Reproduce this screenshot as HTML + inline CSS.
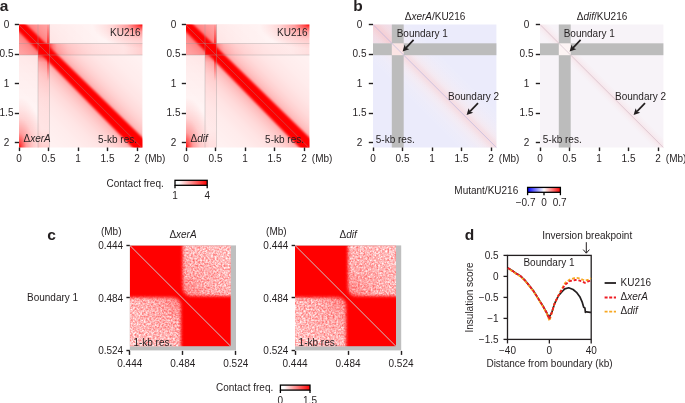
<!DOCTYPE html>
<html><head><meta charset="utf-8"><title>Figure</title>
<style>html,body{margin:0;padding:0;background:#fff;} body{width:685px;height:403px;overflow:hidden;} svg{display:block;font-family:"Liberation Sans", sans-serif;} text{opacity:0.995}</style>
</head><body>
<svg width="685" height="403" viewBox="0 0 685 403">
<defs><linearGradient id="dgA" gradientUnits="userSpaceOnUse" x1="0" y1="123.4" x2="123.4" y2="0"><stop offset="0.0000" stop-color="#ff0000" stop-opacity="0.01"/><stop offset="0.1556" stop-color="#ff0000" stop-opacity="0.025"/><stop offset="0.2569" stop-color="#ff0000" stop-opacity="0.045"/><stop offset="0.3258" stop-color="#ff0000" stop-opacity="0.075"/><stop offset="0.3744" stop-color="#ff0000" stop-opacity="0.115"/><stop offset="0.4068" stop-color="#ff0000" stop-opacity="0.16"/><stop offset="0.4311" stop-color="#ff0000" stop-opacity="0.21"/><stop offset="0.4473" stop-color="#ff0000" stop-opacity="0.26"/><stop offset="0.4595" stop-color="#ff0000" stop-opacity="0.31"/><stop offset="0.4716" stop-color="#ff0000" stop-opacity="0.37"/><stop offset="0.4838" stop-color="#ff0000" stop-opacity="0.42"/><stop offset="0.5000" stop-color="#ff0000" stop-opacity="0.45"/><stop offset="0.5162" stop-color="#ff0000" stop-opacity="0.42"/><stop offset="0.5284" stop-color="#ff0000" stop-opacity="0.37"/><stop offset="0.5405" stop-color="#ff0000" stop-opacity="0.31"/><stop offset="0.5527" stop-color="#ff0000" stop-opacity="0.26"/><stop offset="0.5689" stop-color="#ff0000" stop-opacity="0.21"/><stop offset="0.5932" stop-color="#ff0000" stop-opacity="0.16"/><stop offset="0.6256" stop-color="#ff0000" stop-opacity="0.115"/><stop offset="0.6742" stop-color="#ff0000" stop-opacity="0.075"/><stop offset="0.7431" stop-color="#ff0000" stop-opacity="0.045"/><stop offset="0.8444" stop-color="#ff0000" stop-opacity="0.025"/><stop offset="1.0000" stop-color="#ff0000" stop-opacity="0.01"/></linearGradient><filter id="fcore" x="-5%" y="-5%" width="110%" height="110%"><feGaussianBlur stdDeviation="1.3"/></filter><clipPath id="clipA"><rect width="123.4" height="123"/></clipPath><radialGradient id="cTR" gradientUnits="userSpaceOnUse" cx="0" cy="0" r="1" gradientTransform="translate(123.4,0) scale(50,24)"><stop offset="0" stop-color="#f00" stop-opacity="1"/><stop offset="0.1" stop-color="#f00" stop-opacity="0.7"/><stop offset="0.3" stop-color="#f00" stop-opacity="0.32"/><stop offset="0.6" stop-color="#f00" stop-opacity="0.12"/><stop offset="1" stop-color="#f00" stop-opacity="0"/></radialGradient><radialGradient id="cBL" gradientUnits="userSpaceOnUse" cx="0" cy="0" r="1" gradientTransform="translate(0,123) scale(24,50)"><stop offset="0" stop-color="#f00" stop-opacity="1"/><stop offset="0.1" stop-color="#f00" stop-opacity="0.7"/><stop offset="0.3" stop-color="#f00" stop-opacity="0.32"/><stop offset="0.6" stop-color="#f00" stop-opacity="0.12"/><stop offset="1" stop-color="#f00" stop-opacity="0"/></radialGradient><linearGradient id="stH2" gradientUnits="userSpaceOnUse" x1="30.5" y1="0" x2="123.4" y2="0"><stop offset="0" stop-color="#f00" stop-opacity="0.6"/><stop offset="0.04" stop-color="#f00" stop-opacity="0.3"/><stop offset="0.08" stop-color="#f00" stop-opacity="0.15"/><stop offset="0.2" stop-color="#f00" stop-opacity="0.08"/><stop offset="0.5" stop-color="#f00" stop-opacity="0.05"/><stop offset="0.8" stop-color="#f00" stop-opacity="0.05"/><stop offset="1" stop-color="#f00" stop-opacity="0.15"/></linearGradient><linearGradient id="stV2" gradientUnits="userSpaceOnUse" x1="0" y1="30.5" x2="0" y2="123"><stop offset="0" stop-color="#f00" stop-opacity="0.6"/><stop offset="0.04" stop-color="#f00" stop-opacity="0.3"/><stop offset="0.08" stop-color="#f00" stop-opacity="0.15"/><stop offset="0.2" stop-color="#f00" stop-opacity="0.08"/><stop offset="0.5" stop-color="#f00" stop-opacity="0.05"/><stop offset="0.8" stop-color="#f00" stop-opacity="0.05"/><stop offset="1" stop-color="#f00" stop-opacity="0.15"/></linearGradient><linearGradient id="stH1" gradientUnits="userSpaceOnUse" x1="30.5" y1="0" x2="123.4" y2="0"><stop offset="0" stop-color="#f00" stop-opacity="0.06"/><stop offset="0.6" stop-color="#f00" stop-opacity="0.03"/><stop offset="1" stop-color="#f00" stop-opacity="0.1"/></linearGradient><linearGradient id="stV1" gradientUnits="userSpaceOnUse" x1="0" y1="30.5" x2="0" y2="123"><stop offset="0" stop-color="#f00" stop-opacity="0.06"/><stop offset="0.6" stop-color="#f00" stop-opacity="0.03"/><stop offset="1" stop-color="#f00" stop-opacity="0.1"/></linearGradient><linearGradient id="skV1" x1="0" y1="0" x2="0" y2="1"><stop offset="0" stop-color="#f00" stop-opacity="0.05"/><stop offset="0.5" stop-color="#f00" stop-opacity="0.3"/><stop offset="1" stop-color="#f00" stop-opacity="0.6"/></linearGradient><linearGradient id="skV2" x1="0" y1="0" x2="0" y2="1"><stop offset="0" stop-color="#f00" stop-opacity="0.7"/><stop offset="0.4" stop-color="#f00" stop-opacity="0.35"/><stop offset="1" stop-color="#f00" stop-opacity="0"/></linearGradient><linearGradient id="skV" gradientUnits="userSpaceOnUse" x1="0" y1="0" x2="0" y2="60"><stop offset="0" stop-color="#f00" stop-opacity="0.1"/><stop offset="0.3" stop-color="#f00" stop-opacity="0.35"/><stop offset="0.55" stop-color="#f00" stop-opacity="0.45"/><stop offset="1" stop-color="#f00" stop-opacity="0"/></linearGradient><linearGradient id="skH" gradientUnits="userSpaceOnUse" x1="0" y1="0" x2="60" y2="0"><stop offset="0" stop-color="#f00" stop-opacity="0.05"/><stop offset="0.3" stop-color="#f00" stop-opacity="0.2"/><stop offset="0.55" stop-color="#f00" stop-opacity="0.3"/><stop offset="1" stop-color="#f00" stop-opacity="0"/></linearGradient><linearGradient id="cbR" x1="0" y1="0" x2="1" y2="0"><stop offset="0" stop-color="#fff"/><stop offset="0.12" stop-color="#fff"/><stop offset="1" stop-color="#f00"/></linearGradient><linearGradient id="cbBWR" x1="0" y1="0" x2="1" y2="0"><stop offset="0" stop-color="#00f"/><stop offset="0.5" stop-color="#fff"/><stop offset="1" stop-color="#f00"/></linearGradient><linearGradient id="dgB1" gradientUnits="userSpaceOnUse" x1="0" y1="123.4" x2="123.4" y2="0"><stop offset="0.3541" stop-color="#f03030" stop-opacity="0"/><stop offset="0.3947" stop-color="#f03030" stop-opacity="0.008"/><stop offset="0.4352" stop-color="#f03030" stop-opacity="0.028"/><stop offset="0.4595" stop-color="#f03030" stop-opacity="0.055"/><stop offset="0.4757" stop-color="#f03030" stop-opacity="0.09"/><stop offset="0.4878" stop-color="#f03030" stop-opacity="0.12"/><stop offset="0.5000" stop-color="#f03030" stop-opacity="0.13"/><stop offset="0.5122" stop-color="#f03030" stop-opacity="0.12"/><stop offset="0.5243" stop-color="#f03030" stop-opacity="0.09"/><stop offset="0.5405" stop-color="#f03030" stop-opacity="0.055"/><stop offset="0.5648" stop-color="#f03030" stop-opacity="0.028"/><stop offset="0.6053" stop-color="#f03030" stop-opacity="0.008"/><stop offset="0.6459" stop-color="#f03030" stop-opacity="0"/></linearGradient><linearGradient id="dgW" gradientUnits="userSpaceOnUse" x1="0" y1="123.4" x2="123.4" y2="0"><stop offset="0.3460" stop-color="#ffffff" stop-opacity="0"/><stop offset="0.3947" stop-color="#ffffff" stop-opacity="0.14"/><stop offset="0.4352" stop-color="#ffffff" stop-opacity="0.32"/><stop offset="0.4676" stop-color="#ffffff" stop-opacity="0.5"/><stop offset="0.5000" stop-color="#ffffff" stop-opacity="0.6"/><stop offset="0.5324" stop-color="#ffffff" stop-opacity="0.5"/><stop offset="0.5648" stop-color="#ffffff" stop-opacity="0.32"/><stop offset="0.6053" stop-color="#ffffff" stop-opacity="0.14"/><stop offset="0.6540" stop-color="#ffffff" stop-opacity="0"/></linearGradient><linearGradient id="dgB2" gradientUnits="userSpaceOnUse" x1="0" y1="123.4" x2="123.4" y2="0"><stop offset="0.4595" stop-color="#f03030" stop-opacity="0"/><stop offset="0.4797" stop-color="#f03030" stop-opacity="0.025"/><stop offset="0.4919" stop-color="#f03030" stop-opacity="0.05"/><stop offset="0.5000" stop-color="#f03030" stop-opacity="0.08"/><stop offset="0.5081" stop-color="#f03030" stop-opacity="0.05"/><stop offset="0.5203" stop-color="#f03030" stop-opacity="0.025"/><stop offset="0.5405" stop-color="#f03030" stop-opacity="0"/></linearGradient><filter id="fz" x="-20%" y="-20%" width="140%" height="140%"><feGaussianBlur stdDeviation="1.8"/></filter><clipPath id="clipC"><rect width="101" height="101"/></clipPath><mask id="mC" maskUnits="userSpaceOnUse" x="-10" y="-10" width="121" height="121"><g filter="url(#fz)"><path d="M53,-10 H115 V50.5 H62 Q53,50.5 53,41.5 Z" fill="url(#mgUR)"/><path d="M-10,52 H42 Q51,52 51,61 V115 H-10 Z" fill="url(#mgLL)"/></g></mask><radialGradient id="mgUR" gradientUnits="userSpaceOnUse" cx="53" cy="51" r="62"><stop offset="0" stop-color="#a8a8a8"/><stop offset="0.4" stop-color="#e0e0e0"/><stop offset="1" stop-color="#fff"/></radialGradient><radialGradient id="mgLL" gradientUnits="userSpaceOnUse" cx="51" cy="52" r="62"><stop offset="0" stop-color="#a8a8a8"/><stop offset="0.4" stop-color="#e0e0e0"/><stop offset="1" stop-color="#fff"/></radialGradient><filter id="speck1" filterUnits="userSpaceOnUse" x="-5" y="-5" width="111" height="111" color-interpolation-filters="sRGB"><feTurbulence type="fractalNoise" baseFrequency="0.55" numOctaves="2" seed="7" result="n"/><feColorMatrix in="n" type="matrix" values="0 0 0 0 1  0 0 0 0 1  0 0 0 0 1  0.9 0 0 0 0.3"/><feComposite in2="SourceGraphic" operator="in"/></filter><filter id="speck2" filterUnits="userSpaceOnUse" x="-5" y="-5" width="111" height="111" color-interpolation-filters="sRGB"><feTurbulence type="fractalNoise" baseFrequency="0.55" numOctaves="2" seed="13" result="n"/><feColorMatrix in="n" type="matrix" values="0 0 0 0 1  0 0 0 0 1  0 0 0 0 1  0.9 0 0 0 0.3"/><feComposite in2="SourceGraphic" operator="in"/></filter></defs>
<g transform="translate(19,24.5)">
<rect width="123.4" height="123.0" fill="#fff7f7"/>
<rect width="123.4" height="123.0" fill="url(#dgA)"/>
<g clip-path="url(#clipA)"><polygon points="-3,-3 4.0,-3 126.4,116.0 126.4,126.0 116.4,126.0 -3,4.0" fill="#f00" filter="url(#fcore)"/></g>
<rect x="30.5" y="0" width="92.9" height="19.0" fill="#fff" fill-opacity="0.8"/>
<rect x="0" y="30.5" width="19.0" height="92.5" fill="#fff" fill-opacity="0.8"/>
<rect x="30.5" y="0" width="92.9" height="19.0" fill="url(#stH1)"/>
<rect x="0" y="30.5" width="19.0" height="92.5" fill="url(#stV1)"/>
<rect x="30.5" y="19.0" width="92.9" height="11.5" fill="url(#stH2)" fill-opacity="1.0"/>
<rect x="19.0" y="30.5" width="11.5" height="92.5" fill="url(#stV2)" fill-opacity="1.0"/>
<rect x="0" y="0" width="30.5" height="30.5" fill="#f00" fill-opacity="0.24"/>
<rect x="19.0" y="19.0" width="11.5" height="11.5" fill="#f00" fill-opacity="0.85"/>
<rect x="28" y="0" width="2.5" height="19" fill="url(#skV1)"/>
<rect x="28" y="30.5" width="2.5" height="26" fill="url(#skV2)"/>
<rect width="123.4" height="123.0" fill="url(#cTR)"/>
<rect width="123.4" height="123.0" fill="url(#cBL)"/>
<line x1="0" y1="19.0" x2="123.4" y2="19.0" stroke="#999" stroke-width="0.8" stroke-opacity="0.45"/>
<line x1="19.0" y1="0" x2="19.0" y2="123.0" stroke="#999" stroke-width="0.8" stroke-opacity="0.45"/>
<line x1="0" y1="30.5" x2="123.4" y2="30.5" stroke="#999" stroke-width="0.8" stroke-opacity="0.45"/>
<line x1="30.5" y1="0" x2="30.5" y2="123.0" stroke="#999" stroke-width="0.8" stroke-opacity="0.45"/>
<line x1="0" y1="0.6" x2="122.80000000000001" y2="123.0" stroke="#a09090" stroke-width="0.7" stroke-opacity="0.6"/>
</g>
<text x="140.6" y="36.2" font-size="10" text-anchor="end" fill="#231f20">KU216</text>
<text x="23.5" y="142.4" font-size="10" text-anchor="start" fill="#231f20">&#916;<tspan font-style="italic">xerA</tspan></text>
<text x="137.0" y="142.6" font-size="10" text-anchor="end" fill="#231f20">5-kb res.</text>
<line x1="14.8" y1="24.5" x2="19" y2="24.5" stroke="#231f20" stroke-width="1.4"/>
<text x="6.5" y="27.9" font-size="10" text-anchor="middle" fill="#231f20">0</text>
<line x1="19.5" y1="147.5" x2="19.5" y2="151.1" stroke="#231f20" stroke-width="1.4"/>
<text x="19.0" y="161.6" font-size="10" text-anchor="middle" fill="#231f20">0</text>
<line x1="14.8" y1="54.5" x2="19" y2="54.5" stroke="#231f20" stroke-width="1.4"/>
<text x="6.5" y="57.4" font-size="10" text-anchor="middle" fill="#231f20">0.5</text>
<line x1="48.5" y1="147.5" x2="48.5" y2="151.1" stroke="#231f20" stroke-width="1.4"/>
<text x="48.5" y="161.6" font-size="10" text-anchor="middle" fill="#231f20">0.5</text>
<line x1="14.8" y1="83.5" x2="19" y2="83.5" stroke="#231f20" stroke-width="1.4"/>
<text x="6.5" y="86.9" font-size="10" text-anchor="middle" fill="#231f20">1</text>
<line x1="78.5" y1="147.5" x2="78.5" y2="151.1" stroke="#231f20" stroke-width="1.4"/>
<text x="78.0" y="161.6" font-size="10" text-anchor="middle" fill="#231f20">1</text>
<line x1="14.8" y1="113.5" x2="19" y2="113.5" stroke="#231f20" stroke-width="1.4"/>
<text x="6.5" y="116.4" font-size="10" text-anchor="middle" fill="#231f20">1.5</text>
<line x1="107.5" y1="147.5" x2="107.5" y2="151.1" stroke="#231f20" stroke-width="1.4"/>
<text x="107.5" y="161.6" font-size="10" text-anchor="middle" fill="#231f20">1.5</text>
<line x1="14.8" y1="142.5" x2="19" y2="142.5" stroke="#231f20" stroke-width="1.4"/>
<text x="6.5" y="145.9" font-size="10" text-anchor="middle" fill="#231f20">2</text>
<line x1="137.5" y1="147.5" x2="137.5" y2="151.1" stroke="#231f20" stroke-width="1.4"/>
<text x="137.0" y="161.6" font-size="10" text-anchor="middle" fill="#231f20">2</text>
<text x="144.8" y="161.6" font-size="10" text-anchor="start" fill="#231f20">(Mb)</text>
<g transform="translate(186,24.5)">
<rect width="123.4" height="123.0" fill="#fff7f7"/>
<rect width="123.4" height="123.0" fill="url(#dgA)"/>
<g clip-path="url(#clipA)"><polygon points="-3,-3 4.0,-3 126.4,116.0 126.4,126.0 116.4,126.0 -3,4.0" fill="#f00" filter="url(#fcore)"/></g>
<rect x="30.5" y="0" width="92.9" height="19.0" fill="#fff" fill-opacity="0.8"/>
<rect x="0" y="30.5" width="19.0" height="92.5" fill="#fff" fill-opacity="0.8"/>
<rect x="30.5" y="0" width="92.9" height="19.0" fill="url(#stH1)"/>
<rect x="0" y="30.5" width="19.0" height="92.5" fill="url(#stV1)"/>
<rect x="30.5" y="19.0" width="92.9" height="11.5" fill="url(#stH2)" fill-opacity="0.55"/>
<rect x="19.0" y="30.5" width="11.5" height="92.5" fill="url(#stV2)" fill-opacity="0.55"/>
<rect x="0" y="0" width="30.5" height="30.5" fill="#f00" fill-opacity="0.24"/>
<rect x="19.0" y="19.0" width="11.5" height="11.5" fill="#f00" fill-opacity="0.85"/>
<rect x="28" y="0" width="2.5" height="19" fill="url(#skV1)"/>
<rect x="28" y="30.5" width="2.5" height="26" fill="url(#skV2)"/>
<rect width="123.4" height="123.0" fill="url(#cTR)"/>
<rect width="123.4" height="123.0" fill="url(#cBL)"/>
<line x1="0" y1="19.0" x2="123.4" y2="19.0" stroke="#999" stroke-width="0.8" stroke-opacity="0.45"/>
<line x1="19.0" y1="0" x2="19.0" y2="123.0" stroke="#999" stroke-width="0.8" stroke-opacity="0.45"/>
<line x1="0" y1="30.5" x2="123.4" y2="30.5" stroke="#999" stroke-width="0.8" stroke-opacity="0.45"/>
<line x1="30.5" y1="0" x2="30.5" y2="123.0" stroke="#999" stroke-width="0.8" stroke-opacity="0.45"/>
<line x1="0" y1="0.6" x2="122.80000000000001" y2="123.0" stroke="#a09090" stroke-width="0.7" stroke-opacity="0.6"/>
</g>
<text x="307.6" y="36.2" font-size="10" text-anchor="end" fill="#231f20">KU216</text>
<text x="190.5" y="142.4" font-size="10" text-anchor="start" fill="#231f20">&#916;<tspan font-style="italic">dif</tspan></text>
<text x="304.0" y="142.6" font-size="10" text-anchor="end" fill="#231f20">5-kb res.</text>
<line x1="181.8" y1="24.5" x2="186" y2="24.5" stroke="#231f20" stroke-width="1.4"/>
<text x="173.5" y="27.9" font-size="10" text-anchor="middle" fill="#231f20">0</text>
<line x1="186.5" y1="147.5" x2="186.5" y2="151.1" stroke="#231f20" stroke-width="1.4"/>
<text x="186.0" y="161.6" font-size="10" text-anchor="middle" fill="#231f20">0</text>
<line x1="181.8" y1="54.5" x2="186" y2="54.5" stroke="#231f20" stroke-width="1.4"/>
<text x="173.5" y="57.4" font-size="10" text-anchor="middle" fill="#231f20">0.5</text>
<line x1="215.5" y1="147.5" x2="215.5" y2="151.1" stroke="#231f20" stroke-width="1.4"/>
<text x="215.5" y="161.6" font-size="10" text-anchor="middle" fill="#231f20">0.5</text>
<line x1="181.8" y1="83.5" x2="186" y2="83.5" stroke="#231f20" stroke-width="1.4"/>
<text x="173.5" y="86.9" font-size="10" text-anchor="middle" fill="#231f20">1</text>
<line x1="245.5" y1="147.5" x2="245.5" y2="151.1" stroke="#231f20" stroke-width="1.4"/>
<text x="245.0" y="161.6" font-size="10" text-anchor="middle" fill="#231f20">1</text>
<line x1="181.8" y1="113.5" x2="186" y2="113.5" stroke="#231f20" stroke-width="1.4"/>
<text x="173.5" y="116.4" font-size="10" text-anchor="middle" fill="#231f20">1.5</text>
<line x1="274.5" y1="147.5" x2="274.5" y2="151.1" stroke="#231f20" stroke-width="1.4"/>
<text x="274.5" y="161.6" font-size="10" text-anchor="middle" fill="#231f20">1.5</text>
<line x1="181.8" y1="142.5" x2="186" y2="142.5" stroke="#231f20" stroke-width="1.4"/>
<text x="173.5" y="145.9" font-size="10" text-anchor="middle" fill="#231f20">2</text>
<line x1="304.5" y1="147.5" x2="304.5" y2="151.1" stroke="#231f20" stroke-width="1.4"/>
<text x="304.0" y="161.6" font-size="10" text-anchor="middle" fill="#231f20">2</text>
<text x="311.8" y="161.6" font-size="10" text-anchor="start" fill="#231f20">(Mb)</text>
<text x="-0.3" y="10.9" font-size="15.5" text-anchor="start" font-weight="bold" fill="#231f20">a</text>
<text x="353.3" y="10.9" font-size="15.5" text-anchor="start" font-weight="bold" fill="#231f20">b</text>
<text x="47.2" y="239.9" font-size="15.5" text-anchor="start" font-weight="bold" fill="#231f20">c</text>
<text x="464.8" y="239.9" font-size="15.5" text-anchor="start" font-weight="bold" fill="#231f20">d</text>
<text x="106.5" y="186.6" font-size="10" text-anchor="start" fill="#231f20">Contact freq.</text>
<rect x="175.0" y="180.3" width="32.2" height="5.0" fill="url(#cbR)" stroke="#000" stroke-width="1.3"/>
<line x1="175.0" y1="185.3" x2="175.0" y2="188.20000000000002" stroke="#000" stroke-width="1.3"/>
<line x1="207.2" y1="185.3" x2="207.2" y2="188.20000000000002" stroke="#000" stroke-width="1.3"/>
<text x="175.0" y="198.6" font-size="10" text-anchor="middle" fill="#231f20">1</text>
<text x="207.2" y="198.6" font-size="10" text-anchor="middle" fill="#231f20">4</text>
<g transform="translate(373,24.5)">
<rect width="123.4" height="123.0" fill="#ebebfb"/>
<rect width="123.4" height="123.0" fill="url(#dgW)"/>
<rect width="18.8" height="18.8" fill="#f03030" fill-opacity="0.07"/>
<rect width="123.4" height="123.0" fill="url(#dgB1)"/>
<rect x="18.8" y="0" width="11.899999999999999" height="123.0" fill="#bcbcbc"/>
<rect x="0" y="18.8" width="123.4" height="11.899999999999999" fill="#bcbcbc"/>
<rect x="18.8" y="18.8" width="11.899999999999999" height="11.899999999999999" fill="#fbe4e4"/>
<line x1="0" y1="0" x2="123.4" y2="123.0" stroke="#a8a8dc" stroke-width="0.6" stroke-opacity="0.9"/>
</g>
<text x="435" y="19.6" font-size="10" text-anchor="middle" fill="#231f20">&#916;<tspan font-style="italic">xerA</tspan>/KU216</text>
<text x="375.8" y="142.5" font-size="10" text-anchor="start" fill="#231f20">5-kb res.</text>
<text x="396.7" y="37.4" font-size="10" text-anchor="start" fill="#231f20">Boundary 1</text>
<line x1="413.6" y1="39.9" x2="406.03" y2="47.82" stroke="#231f20" stroke-width="1.7"/>
<polygon points="402.60,51.40 404.57,44.71 406.03,47.82 409.20,49.13" fill="#231f20"/>
<text x="448" y="99.7" font-size="10" text-anchor="start" fill="#231f20">Boundary 2</text>
<line x1="478" y1="103.2" x2="470.05" y2="111.43" stroke="#231f20" stroke-width="1.7"/>
<polygon points="466.60,115.00 468.61,108.32 470.05,111.43 473.21,112.76" fill="#231f20"/>
<line x1="368.8" y1="24.5" x2="373" y2="24.5" stroke="#231f20" stroke-width="1.4"/>
<text x="359.5" y="27.9" font-size="10" text-anchor="middle" fill="#231f20">0</text>
<line x1="373.5" y1="147.5" x2="373.5" y2="151.1" stroke="#231f20" stroke-width="1.4"/>
<text x="373.0" y="161.6" font-size="10" text-anchor="middle" fill="#231f20">0</text>
<line x1="368.8" y1="54.5" x2="373" y2="54.5" stroke="#231f20" stroke-width="1.4"/>
<text x="359.5" y="57.4" font-size="10" text-anchor="middle" fill="#231f20">0.5</text>
<line x1="402.5" y1="147.5" x2="402.5" y2="151.1" stroke="#231f20" stroke-width="1.4"/>
<text x="402.5" y="161.6" font-size="10" text-anchor="middle" fill="#231f20">0.5</text>
<line x1="368.8" y1="83.5" x2="373" y2="83.5" stroke="#231f20" stroke-width="1.4"/>
<text x="359.5" y="86.9" font-size="10" text-anchor="middle" fill="#231f20">1</text>
<line x1="432.5" y1="147.5" x2="432.5" y2="151.1" stroke="#231f20" stroke-width="1.4"/>
<text x="432.0" y="161.6" font-size="10" text-anchor="middle" fill="#231f20">1</text>
<line x1="368.8" y1="113.5" x2="373" y2="113.5" stroke="#231f20" stroke-width="1.4"/>
<text x="359.5" y="116.4" font-size="10" text-anchor="middle" fill="#231f20">1.5</text>
<line x1="461.5" y1="147.5" x2="461.5" y2="151.1" stroke="#231f20" stroke-width="1.4"/>
<text x="461.5" y="161.6" font-size="10" text-anchor="middle" fill="#231f20">1.5</text>
<line x1="368.8" y1="142.5" x2="373" y2="142.5" stroke="#231f20" stroke-width="1.4"/>
<text x="359.5" y="145.9" font-size="10" text-anchor="middle" fill="#231f20">2</text>
<line x1="491.5" y1="147.5" x2="491.5" y2="151.1" stroke="#231f20" stroke-width="1.4"/>
<text x="491.0" y="161.6" font-size="10" text-anchor="middle" fill="#231f20">2</text>
<text x="498.8" y="161.6" font-size="10" text-anchor="start" fill="#231f20">(Mb)</text>
<g transform="translate(540,24.5)">
<rect width="123.4" height="123.0" fill="#f7f3f8"/>
<rect width="18.8" height="18.8" fill="#f03030" fill-opacity="0.0"/>
<rect width="123.4" height="123.0" fill="url(#dgB2)"/>
<rect x="18.8" y="0" width="11.899999999999999" height="123.0" fill="#bcbcbc"/>
<rect x="0" y="18.8" width="123.4" height="11.899999999999999" fill="#bcbcbc"/>
<rect x="18.8" y="18.8" width="11.899999999999999" height="11.899999999999999" fill="#fdf4f4"/>
<line x1="0" y1="0" x2="123.4" y2="123.0" stroke="#c8b0c0" stroke-width="0.6" stroke-opacity="0.9"/>
</g>
<text x="602" y="19.6" font-size="10" text-anchor="middle" fill="#231f20">&#916;<tspan font-style="italic">dif</tspan>/KU216</text>
<text x="542.8" y="142.5" font-size="10" text-anchor="start" fill="#231f20">5-kb res.</text>
<text x="563.7" y="37.4" font-size="10" text-anchor="start" fill="#231f20">Boundary 1</text>
<line x1="580.6" y1="39.9" x2="573.03" y2="47.82" stroke="#231f20" stroke-width="1.7"/>
<polygon points="569.60,51.40 571.57,44.71 573.03,47.82 576.20,49.13" fill="#231f20"/>
<text x="615" y="99.7" font-size="10" text-anchor="start" fill="#231f20">Boundary 2</text>
<line x1="645" y1="103.2" x2="637.05" y2="111.43" stroke="#231f20" stroke-width="1.7"/>
<polygon points="633.60,115.00 635.61,108.32 637.05,111.43 640.21,112.76" fill="#231f20"/>
<line x1="535.8" y1="24.5" x2="540" y2="24.5" stroke="#231f20" stroke-width="1.4"/>
<text x="526.5" y="27.9" font-size="10" text-anchor="middle" fill="#231f20">0</text>
<line x1="540.5" y1="147.5" x2="540.5" y2="151.1" stroke="#231f20" stroke-width="1.4"/>
<text x="540.0" y="161.6" font-size="10" text-anchor="middle" fill="#231f20">0</text>
<line x1="535.8" y1="54.5" x2="540" y2="54.5" stroke="#231f20" stroke-width="1.4"/>
<text x="526.5" y="57.4" font-size="10" text-anchor="middle" fill="#231f20">0.5</text>
<line x1="569.5" y1="147.5" x2="569.5" y2="151.1" stroke="#231f20" stroke-width="1.4"/>
<text x="569.5" y="161.6" font-size="10" text-anchor="middle" fill="#231f20">0.5</text>
<line x1="535.8" y1="83.5" x2="540" y2="83.5" stroke="#231f20" stroke-width="1.4"/>
<text x="526.5" y="86.9" font-size="10" text-anchor="middle" fill="#231f20">1</text>
<line x1="599.5" y1="147.5" x2="599.5" y2="151.1" stroke="#231f20" stroke-width="1.4"/>
<text x="599.0" y="161.6" font-size="10" text-anchor="middle" fill="#231f20">1</text>
<line x1="535.8" y1="113.5" x2="540" y2="113.5" stroke="#231f20" stroke-width="1.4"/>
<text x="526.5" y="116.4" font-size="10" text-anchor="middle" fill="#231f20">1.5</text>
<line x1="628.5" y1="147.5" x2="628.5" y2="151.1" stroke="#231f20" stroke-width="1.4"/>
<text x="628.5" y="161.6" font-size="10" text-anchor="middle" fill="#231f20">1.5</text>
<line x1="535.8" y1="142.5" x2="540" y2="142.5" stroke="#231f20" stroke-width="1.4"/>
<text x="526.5" y="145.9" font-size="10" text-anchor="middle" fill="#231f20">2</text>
<line x1="658.5" y1="147.5" x2="658.5" y2="151.1" stroke="#231f20" stroke-width="1.4"/>
<text x="658.0" y="161.6" font-size="10" text-anchor="middle" fill="#231f20">2</text>
<text x="665.8" y="161.6" font-size="10" text-anchor="start" fill="#231f20">(Mb)</text>
<text x="454.3" y="193.6" font-size="10" text-anchor="start" fill="#231f20">Mutant/KU216</text>
<rect x="527.6" y="187.4" width="32.8" height="4.9" fill="url(#cbBWR)" stroke="#000" stroke-width="1.3"/>
<line x1="527.6" y1="192.3" x2="527.6" y2="195.20000000000002" stroke="#000" stroke-width="1.3"/>
<line x1="544.0" y1="192.3" x2="544.0" y2="195.20000000000002" stroke="#000" stroke-width="1.3"/>
<line x1="560.4" y1="192.3" x2="560.4" y2="195.20000000000002" stroke="#000" stroke-width="1.3"/>
<text x="525.6" y="205.6" font-size="10" text-anchor="middle" fill="#231f20">&#8722;0.7</text>
<text x="544.0" y="205.6" font-size="10" text-anchor="middle" fill="#231f20">0</text>
<text x="559.7" y="205.6" font-size="10" text-anchor="middle" fill="#231f20">0.7</text>
<g transform="translate(129.8,245.4)">
<rect width="106.2" height="105.0" fill="#bfbfbf"/>
<g clip-path="url(#clipC)">
<rect width="101.0" height="101.0" fill="#ff0000"/>
<rect x="-5" y="-5" width="111.0" height="111.0" fill="#fff" filter="url(#speck1)" mask="url(#mC)"/>
</g>
<line x1="0" y1="0" x2="101.0" y2="101.0" stroke="#cfc4c4" stroke-width="1"/>
</g>
<text x="183.0" y="238.0" font-size="10" text-anchor="middle" font-style="italic" fill="#231f20"><tspan font-style="normal">&#916;</tspan>xerA</text>
<text x="133.4" y="345.6" font-size="10" text-anchor="start" fill="#231f20">1-kb res.</text>
<text x="111.20000000000002" y="235.4" font-size="10" text-anchor="middle" fill="#231f20">(Mb)</text>
<line x1="126.4" y1="245.5" x2="129.8" y2="245.5" stroke="#231f20" stroke-width="1.4"/>
<text x="123.20000000000002" y="249.20000000000002" font-size="10" text-anchor="end" fill="#231f20">0.444</text>
<line x1="129.5" y1="350.9" x2="129.5" y2="354.9" stroke="#231f20" stroke-width="1.4"/>
<text x="129.8" y="366.6" font-size="10" text-anchor="middle" fill="#231f20">0.444</text>
<line x1="126.4" y1="297.5" x2="129.8" y2="297.5" stroke="#231f20" stroke-width="1.4"/>
<text x="123.20000000000002" y="301.7" font-size="10" text-anchor="end" fill="#231f20">0.484</text>
<line x1="182.5" y1="350.9" x2="182.5" y2="354.9" stroke="#231f20" stroke-width="1.4"/>
<text x="182.8" y="366.6" font-size="10" text-anchor="middle" fill="#231f20">0.484</text>
<line x1="126.4" y1="350.5" x2="129.8" y2="350.5" stroke="#231f20" stroke-width="1.4"/>
<text x="123.20000000000002" y="354.2" font-size="10" text-anchor="end" fill="#231f20">0.524</text>
<line x1="235.5" y1="350.9" x2="235.5" y2="354.9" stroke="#231f20" stroke-width="1.4"/>
<text x="235.8" y="366.6" font-size="10" text-anchor="middle" fill="#231f20">0.524</text>
<g transform="translate(295.0,245.4)">
<rect width="106.2" height="105.0" fill="#bfbfbf"/>
<g clip-path="url(#clipC)">
<rect width="101.0" height="101.0" fill="#ff0000"/>
<rect x="-5" y="-5" width="111.0" height="111.0" fill="#fff" filter="url(#speck2)" mask="url(#mC)"/>
</g>
<line x1="0" y1="0" x2="101.0" y2="101.0" stroke="#cfc4c4" stroke-width="1"/>
</g>
<text x="348.2" y="238.0" font-size="10" text-anchor="middle" font-style="italic" fill="#231f20"><tspan font-style="normal">&#916;</tspan>dif</text>
<text x="298.6" y="345.6" font-size="10" text-anchor="start" fill="#231f20">1-kb res.</text>
<text x="276.4" y="235.4" font-size="10" text-anchor="middle" fill="#231f20">(Mb)</text>
<line x1="291.6" y1="245.5" x2="295.0" y2="245.5" stroke="#231f20" stroke-width="1.4"/>
<text x="288.4" y="249.20000000000002" font-size="10" text-anchor="end" fill="#231f20">0.444</text>
<line x1="295.5" y1="350.9" x2="295.5" y2="354.9" stroke="#231f20" stroke-width="1.4"/>
<text x="295.0" y="366.6" font-size="10" text-anchor="middle" fill="#231f20">0.444</text>
<line x1="291.6" y1="297.5" x2="295.0" y2="297.5" stroke="#231f20" stroke-width="1.4"/>
<text x="288.4" y="301.7" font-size="10" text-anchor="end" fill="#231f20">0.484</text>
<line x1="348.5" y1="350.9" x2="348.5" y2="354.9" stroke="#231f20" stroke-width="1.4"/>
<text x="348.0" y="366.6" font-size="10" text-anchor="middle" fill="#231f20">0.484</text>
<line x1="291.6" y1="350.5" x2="295.0" y2="350.5" stroke="#231f20" stroke-width="1.4"/>
<text x="288.4" y="354.2" font-size="10" text-anchor="end" fill="#231f20">0.524</text>
<line x1="401.5" y1="350.9" x2="401.5" y2="354.9" stroke="#231f20" stroke-width="1.4"/>
<text x="401.0" y="366.6" font-size="10" text-anchor="middle" fill="#231f20">0.524</text>
<text x="27.0" y="301.2" font-size="10" text-anchor="start" fill="#231f20">Boundary 1</text>
<text x="216.0" y="391.2" font-size="10" text-anchor="start" fill="#231f20">Contact freq.</text>
<rect x="280.4" y="385.1" width="29.6" height="5.0" fill="url(#cbR)" stroke="#000" stroke-width="1.3"/>
<line x1="280.4" y1="390.1" x2="280.4" y2="393.0" stroke="#000" stroke-width="1.3"/>
<line x1="310.0" y1="390.1" x2="310.0" y2="393.0" stroke="#000" stroke-width="1.3"/>
<text x="280.4" y="403.6" font-size="10" text-anchor="middle" fill="#231f20">0</text>
<text x="310.0" y="403.6" font-size="10" text-anchor="middle" fill="#231f20">1.5</text>
<rect x="507.5" y="255.4" width="83.70000000000005" height="83.99999999999997" fill="none" stroke="#231f20" stroke-width="1.3"/>
<line x1="503.5" y1="255.4" x2="507.5" y2="255.4" stroke="#231f20" stroke-width="1.3"/>
<text x="498.6" y="258.7" font-size="10" text-anchor="end" fill="#231f20">0.5</text>
<line x1="503.5" y1="276.4" x2="507.5" y2="276.4" stroke="#231f20" stroke-width="1.3"/>
<text x="498.6" y="279.7" font-size="10" text-anchor="end" fill="#231f20">0</text>
<line x1="503.5" y1="297.4" x2="507.5" y2="297.4" stroke="#231f20" stroke-width="1.3"/>
<text x="498.6" y="300.7" font-size="10" text-anchor="end" fill="#231f20">&#8722;0.5</text>
<line x1="503.5" y1="318.4" x2="507.5" y2="318.4" stroke="#231f20" stroke-width="1.3"/>
<text x="498.6" y="321.7" font-size="10" text-anchor="end" fill="#231f20">&#8722;1</text>
<line x1="503.5" y1="339.4" x2="507.5" y2="339.4" stroke="#231f20" stroke-width="1.3"/>
<text x="498.6" y="342.7" font-size="10" text-anchor="end" fill="#231f20">&#8722;1.5</text>
<line x1="507.5" y1="339.4" x2="507.5" y2="343.4" stroke="#231f20" stroke-width="1.3"/>
<text x="507.5" y="354.3" font-size="10" text-anchor="middle" fill="#231f20">&#8722;40</text>
<line x1="549.35" y1="339.4" x2="549.35" y2="343.4" stroke="#231f20" stroke-width="1.3"/>
<text x="549.35" y="354.3" font-size="10" text-anchor="middle" fill="#231f20">0</text>
<line x1="591.2" y1="339.4" x2="591.2" y2="343.4" stroke="#231f20" stroke-width="1.3"/>
<text x="591.2" y="354.3" font-size="10" text-anchor="middle" fill="#231f20">40</text>
<text x="549.5" y="367.4" font-size="10" text-anchor="middle" fill="#231f20">Distance from boundary (kb)</text>
<text transform="translate(473,297.5) rotate(-90)" font-size="10" text-anchor="middle" fill="#231f20">Insulation score</text>
<text x="587.2" y="238.7" font-size="10" text-anchor="middle" fill="#231f20">Inversion breakpoint</text>
<line x1="586.3" y1="242.2" x2="586.3" y2="253.0" stroke="#231f20" stroke-width="1.0"/>
<polyline points="583.2,249.6 586.3,253.2 589.4,249.6" fill="none" stroke="#231f20" stroke-width="1.0"/>
<text x="549.0" y="265.9" font-size="10" text-anchor="middle" fill="#231f20">Boundary 1</text>
<polyline points="507.9,268 512,270.4 516.3,273.5 520.6,276.1 525,280.4 529.3,285.6 533.7,291.3 538.9,299.6 543.4,306.8 546.8,313 549,317.6 551.8,312.4 554.6,303.5 558.5,295.6 562.2,291.5 564.8,288.9 568.7,287.8 573.1,289.5 576.5,292.3 579.8,296.7 582.1,301.8 583.7,307.3 584.9,307.9 585.4,312.3 586.5,311.8 590.4,312.3 591,312.3" fill="none" stroke="#231f20" stroke-width="1.7" stroke-linejoin="round"/>
<polyline points="507.9,268.5 512,270.9 516.3,274.0 520.6,276.6 525,280.9 529.3,286.1 533.7,291.8 538.9,300.1 543.4,307.3 546.8,313.5 549.5,320.8 552,312.6 554.6,303.5 558.5,295.2 562,288.6 565.3,282.8 569.8,279.5 575.4,277.8 579.8,278.3 584.9,280.6 587.6,280 591,278.2" fill="none" stroke="#f7a823" stroke-width="1.8" stroke-dasharray="3,1.8" stroke-dashoffset="2.4" stroke-linejoin="round"/>
<polyline points="507.9,268 512,270.4 516.3,273.5 520.6,276.1 525,280.4 529.3,285.6 533.7,291.3 538.9,299.6 543.4,306.8 546.8,313 549.2,319.2 551.8,312.4 554.6,303.5 558.5,295.6 562,289.5 565.3,284.5 569.8,281.1 575.4,280 579.8,280.6 584.9,282.8 587.6,281.7 591,280.4" fill="none" stroke="#ee1c24" stroke-width="1.8" stroke-dasharray="3,1.8" stroke-linejoin="round"/>
<line x1="604.6" y1="283" x2="616" y2="283" stroke="#231f20" stroke-width="1.8"/>
<line x1="604.6" y1="297.5" x2="616" y2="297.5" stroke="#ee1c24" stroke-width="1.8" stroke-dasharray="3,1.6"/>
<line x1="604.6" y1="311.6" x2="616" y2="311.6" stroke="#f7a823" stroke-width="1.8" stroke-dasharray="3,1.6"/>
<text x="620.6" y="285.9" font-size="10" text-anchor="start" fill="#231f20">KU216</text>
<text x="620.6" y="300.4" font-size="10" text-anchor="start" fill="#231f20">&#916;<tspan font-style="italic">xerA</tspan></text>
<text x="620.6" y="314.3" font-size="10" text-anchor="start" fill="#231f20">&#916;<tspan font-style="italic">dif</tspan></text>
</svg>
</body></html>
